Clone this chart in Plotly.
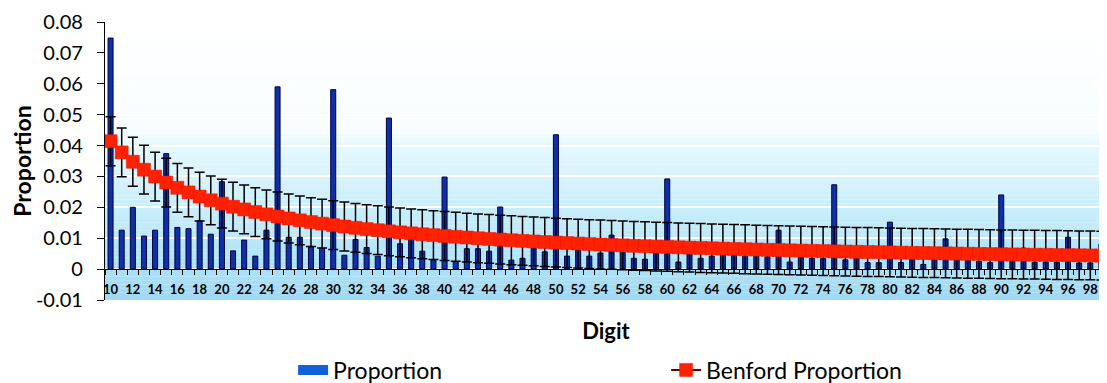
import plotly.graph_objects as go

digits = list(range(10, 100))

proportion = [
    0.0748, 0.0126, 0.0200, 0.0107, 0.0126, 0.0374, 0.0135, 0.0131, 0.0156, 0.0113,
    0.0283, 0.0059, 0.0094, 0.0042, 0.0126, 0.0590, 0.0103, 0.0103, 0.0072, 0.0067,
    0.0581, 0.0045, 0.0096, 0.0070, 0.0042, 0.0489, 0.0082, 0.0100, 0.0058, 0.0029,
    0.0298, 0.0024, 0.0066, 0.0066, 0.0058, 0.0201, 0.0029, 0.0035, 0.0070, 0.0056,
    0.0435, 0.0042, 0.0062, 0.0042, 0.0052, 0.0110, 0.0056, 0.0035, 0.0032, 0.0056,
    0.0292, 0.0023, 0.0051, 0.0035, 0.0042, 0.0045, 0.0045, 0.0042, 0.0045, 0.0040,
    0.0126, 0.0023, 0.0042, 0.0035, 0.0034, 0.0273, 0.0030, 0.0039, 0.0021, 0.0021,
    0.0152, 0.0021, 0.0035, 0.0015, 0.0035, 0.0098, 0.0030, 0.0030, 0.0025, 0.0021,
    0.0240, 0.0030, 0.0068, 0.0022, 0.0023, 0.0022, 0.0103, 0.0020, 0.0020, 0.0081,
]

benford = [
    0.04139, 0.03779, 0.03476, 0.03218, 0.02996, 0.02803, 0.02633, 0.02482, 0.02348, 0.02228,
    0.02119, 0.02020, 0.01931, 0.01848, 0.01773, 0.01703, 0.01639, 0.01579, 0.01524, 0.01472,
    0.01424, 0.01379, 0.01336, 0.01296, 0.01259, 0.01223, 0.01190, 0.01158, 0.01128, 0.01100,
    0.01072, 0.01047, 0.01022, 0.00998, 0.00976, 0.00955, 0.00934, 0.00914, 0.00896, 0.00877,
    0.00860, 0.00843, 0.00827, 0.00812, 0.00797, 0.00783, 0.00769, 0.00755, 0.00742, 0.00730,
    0.00718, 0.00706, 0.00695, 0.00684, 0.00673, 0.00663, 0.00653, 0.00643, 0.00634, 0.00625,
    0.00616, 0.00607, 0.00599, 0.00591, 0.00583, 0.00575, 0.00568, 0.00561, 0.00554, 0.00547,
    0.00540, 0.00533, 0.00527, 0.00521, 0.00515, 0.00509, 0.00503, 0.00497, 0.00492, 0.00486,
    0.00480, 0.00476, 0.00471, 0.00466, 0.00461, 0.00456, 0.00452, 0.00447, 0.00443, 0.00437,
]

benford_err = 0.0079

x_tick_vals = list(range(10, 99, 2))
x_tick_text = [str(v) for v in x_tick_vals]
y_tick_vals = [-0.01, 0, 0.01, 0.02, 0.03, 0.04, 0.05, 0.06, 0.07, 0.08]
y_tick_text = ["-0.01", "0", "0.01", "0.02", "0.03", "0.04", "0.05", "0.06", "0.07", "0.08"]

FONT = "Lato"
Y_MIN, Y_MAX = -0.01, 0.08

fig = go.Figure()

fig.add_trace(go.Bar(
    x=digits, y=proportion, name="Proportion", width=0.45,
    marker=dict(color="#1030a8", line=dict(color="#00003c", width=1)),
    showlegend=False,
))
# legend swatch for the bar series
fig.add_trace(go.Scatter(
    x=[None], y=[None], mode="lines", name="Proportion",
    line=dict(color="#1060d8", width=12),
))
fig.add_trace(go.Scatter(
    x=digits, y=benford, name="Benford Proportion", mode="lines+markers",
    line=dict(color="#6a0000", width=2),
    marker=dict(symbol="square", size=13, color="#ff2200",
                line=dict(color="#f01000", width=0.5)),
    error_y=dict(type="constant", value=benford_err, color="black",
                 thickness=1.5, width=5),
))

# background gradient bands (style only)
stops = [(-0.01, (158, 216, 245)), (0.0, (172, 225, 248)), (0.02, (202, 238, 251)),
         (0.04, (230, 248, 254)), (0.045, (248, 253, 255)), (0.08, (255, 255, 255))]

def col(v):
    for (a, ca), (b, cb) in zip(stops[:-1], stops[1:]):
        if a <= v <= b:
            t = (v - a) / (b - a)
            c = [round(ca[i] + (cb[i] - ca[i]) * t) for i in range(3)]
            return f"rgb({c[0]},{c[1]},{c[2]})"
    return "white"

shapes = []
n = 72
step = (Y_MAX - Y_MIN) / n
for i in range(n):
    y0 = Y_MIN + i * step
    shapes.append(dict(type="rect", xref="paper", yref="y", x0=0, x1=1,
                       y0=y0, y1=y0 + step * 1.02, fillcolor=col(y0 + step / 2),
                       line=dict(width=0), layer="below"))

fig.update_layout(
    width=1107, height=383,
    margin=dict(l=97, r=8, t=14, b=91, autoexpand=False),
    paper_bgcolor="white", plot_bgcolor="white",
    font=dict(family=FONT, color="black"),
    shapes=shapes,
    bargap=0.55,
    showlegend=True,
    legend=dict(orientation="h", x=0.56, xanchor="center",
                yref="container", y=0.055, yanchor="middle",
                font=dict(family=FONT, size=23, color="black"),
                entrywidth=328, bgcolor="rgba(0,0,0,0)"),
    xaxis=dict(
        range=[9.5, 99.5], anchor="free", position=(0 - Y_MIN) / (Y_MAX - Y_MIN),
        automargin=False,
        tickmode="array", tickvals=x_tick_vals, ticktext=x_tick_text,
        ticks="", ticklabelstandoff=8,
        tickfont=dict(family=FONT, size=13, color="black", weight="bold"),
        minor=dict(tick0=9.5, dtick=1, ticks="outside", ticklen=5, tickcolor="black", tickwidth=1),
        showline=True, linecolor="black", linewidth=1, showgrid=False, zeroline=False,
        title=dict(text="Digit", standoff=27,
                   font=dict(family=FONT, size=22, color="black", weight="bold")),
    ),
    yaxis=dict(
        range=[Y_MIN, Y_MAX], tickmode="array", tickvals=y_tick_vals, ticktext=y_tick_text,
        automargin=False,
        ticks="outside", ticklen=7, tickcolor="black", ticklabelstandoff=10,
        tickfont=dict(family=FONT, size=20, color="black"),
        showline=True, linecolor="black", linewidth=1.2,
        showgrid=True, gridcolor="rgba(255,255,255,0.95)", gridwidth=1.5, zeroline=False,
        title=dict(text="Proportion", standoff=8,
                   font=dict(family=FONT, size=23, color="black", weight="bold")),
    ),
)

fig.write_html("out.html")
